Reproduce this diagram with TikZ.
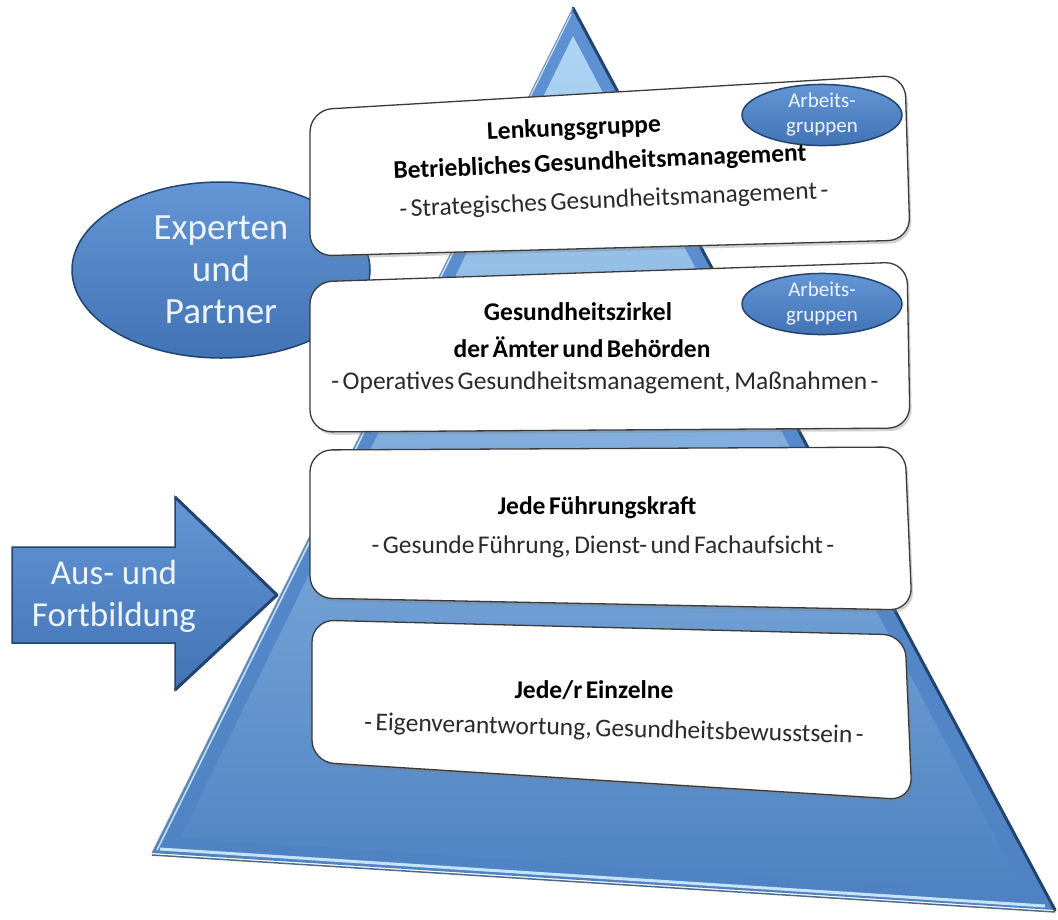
\documentclass[tikz,border=0pt]{standalone}
\usepackage{fontspec}
\setmainfont{Carlito}
\newfontfamily\narrowsp{Carlito}[WordSpace=0.6]
\usetikzlibrary{shadows,shapes.geometric}

\definecolor{pyrtop}{HTML}{AED5F3}
\definecolor{pyrout}{HTML}{4E82C2}
\definecolor{pyrouttop}{HTML}{5E92D2}
\definecolor{edgedark}{HTML}{23446E}
\definecolor{edgelight}{HTML}{C6E4FF}
\definecolor{blobtop}{HTML}{6496D6}
\definecolor{blobbot}{HTML}{4273B4}
\definecolor{boxline}{HTML}{3A3A3A}
\definecolor{txtwhite}{HTML}{EEF4FB}
\definecolor{subgray}{HTML}{2A2A2A}

\begin{document}
\begin{tikzpicture}[x=1pt,y=-1pt,
  boxshape/.style={draw=boxline,line width=1.3pt,fill=white,rounded corners=22pt,
    drop shadow={opacity=0.35,shadow xshift=2pt,shadow yshift=-3pt}},
  bluefill/.style={draw=edgedark,line width=1.5pt,top color=blobtop,bottom color=blobbot},
  headtxt/.style={font=\narrowsp\fontsize{25.5}{30}\selectfont\bfseries,text=black,inner sep=0pt},
  subtxt/.style={font=\narrowsp\fontsize{25.5}{30}\selectfont,text=subgray,inner sep=0pt},
  bigwhite/.style={font=\fontsize{37}{42}\selectfont,text=txtwhite,align=center},
  smallwhite/.style={font=\fontsize{21}{25}\selectfont,text=txtwhite,align=center},
  ]
\useasboundingbox (0,0) rectangle (1058,919);
\fill[white] (0,0) rectangle (1058,919);

% pyramid
\shade[top color=pyrouttop,bottom color=pyrout] (573,8) -- (1055,910) -- (152,853) -- cycle;
\shade[top color=pyrtop,bottom color=pyrout] (573,36) -- (1025,893) -- (180,838) -- cycle;
\draw[edgelight,line width=1.5pt] (571,14) -- (157,850);
\draw[edgelight,line width=3pt] (160,849) -- (1045,906);
\draw[edgedark!80,line width=1.5pt] (152,855) -- (1055,912);
\draw[edgedark,line width=3pt,line cap=round] (573,8) -- (1055,910);
\draw[edgedark!60,line width=1pt] (573,8) -- (152,853);

% experts ellipse
\node[ellipse,bluefill,minimum width=298pt,minimum height=176pt,inner sep=0pt,bigwhite] (exp) at (221,270) {Experten\\und\\Partner};

% training arrow
\path[bluefill] (12,547) -- (175,547) -- (175,497) -- (277,595) -- (175,690) -- (175,643) -- (12,643) -- cycle;
\draw[edgedark,line width=3pt,line join=round] (175,497) -- (277,595) -- (175,690);
\node[bigwhite,font=\fontsize{35}{42}\selectfont] (aus) at (114,596) {Aus- und\\Fortbildung};

% boxes
\draw[boxshape] (310,110) -- (905,75) -- (910,240) -- (310,256) -- cycle;
\draw[boxshape] (310,282) -- (907,262) -- (910,428) -- (310,432) -- cycle;
\draw[boxshape] (310,450) -- (905,447) -- (912,610) -- (310,598) -- cycle;
\draw[boxshape] (312,620) -- (905,635) -- (912,800) -- (312,762) -- cycle;

% working groups
\node[ellipse,bluefill,minimum width=160pt,minimum height=54pt,inner sep=0pt,smallwhite] (ag1) at (822,115) {Arbeits-\\gruppen};
\node[ellipse,bluefill,minimum width=160pt,minimum height=52pt,inner sep=0pt,smallwhite] (ag2) at (822,304) {Arbeits-\\gruppen};

% box texts
\node[headtxt,rotate=2.5] (lenk) at (574,129) {Lenkungsgruppe};
\node[headtxt,rotate=2.5] (bgm) at (600,163) {Betriebliches Gesundheitsmanagement};
\node[subtxt,rotate=2.5] (strat) at (614,201) {- Strategisches Gesundheitsmanagement -};

\node[headtxt] (gz) at (578,312) {Gesundheitszirkel};
\node[headtxt] (aemter) at (582,347) {der Ämter und Behörden};
\node[subtxt] (oper) at (605,383) {- Operatives Gesundheitsmanagement, Maßnahmen -};

\node[headtxt] (fk) at (597,508) {Jede Führungskraft};
\node[subtxt] (gf) at (603,547) {- Gesunde Führung, Dienst- und Fachaufsicht -};

\node[headtxt] (einz) at (594,690) {Jede/r Einzelne};
\node[subtxt,rotate=-1.5] (eig) at (614,730) {- Eigenverantwortung, Gesundheitsbewusstsein -};
\end{tikzpicture}
\end{document}
